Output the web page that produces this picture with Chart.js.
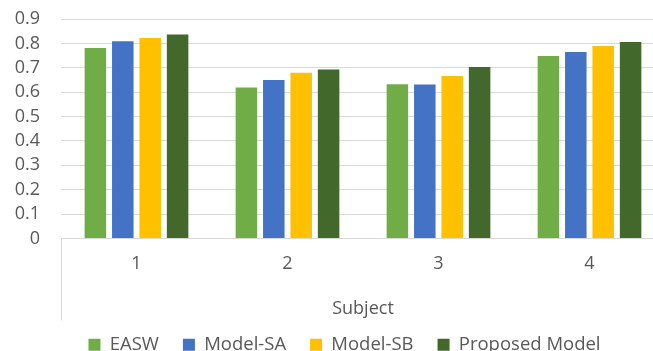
<!DOCTYPE html>
<html>
<head>
<meta charset="utf-8">
<script src="https://cdn.jsdelivr.net/npm/chart.js@4"></script>
<style>
  html, body { margin: 0; padding: 0; background: #ffffff; overflow: hidden; }
  #wrap { position: relative; width: 653px; height: 351px; overflow: hidden; }
</style>
</head>
<body>
<div id="wrap"><canvas id="chart" width="675" height="364"></canvas></div>
<script>
// Subjects on the category axis
const subjects = ['1', '2', '3', '4'];

// Scores per model
const easw       = [0.781, 0.619, 0.632, 0.748];
const modelSA    = [0.809, 0.650, 0.631, 0.765];
const modelSB    = [0.822, 0.680, 0.666, 0.789];
const proposed   = [0.836, 0.693, 0.703, 0.806];

// Value axis labels, bottom to top
const yTicks = ['0', '0.1', '0.2', '0.3', '0.4', '0.5', '0.6', '0.7', '0.8', '0.9'];

const textColor = '#595959';
const lineColor = '#d9d9d9';
const fontFamily = "'Open Sans', 'DejaVu Sans', sans-serif";

// Thin divider on the left of the category label band
const categoryDivider = {
  id: 'categoryDivider',
  afterDraw(chart) {
    const x = chart.scales.x;
    const ctx = chart.ctx;
    const px = Math.round(x.left) + 0.5;
    ctx.save();
    ctx.strokeStyle = lineColor;
    ctx.lineWidth = 1;
    ctx.beginPath();
    ctx.moveTo(px, chart.chartArea.bottom);
    ctx.lineTo(px, chart.chartArea.bottom + 82);
    ctx.stroke();
    ctx.restore();
  }
};

new Chart(document.getElementById('chart'), {
  type: 'bar',
  data: {
    labels: subjects,
    datasets: [
      { label: 'EASW',           data: easw,     backgroundColor: '#70ad47' },
      { label: 'Model-SA',       data: modelSA,  backgroundColor: '#4472c4' },
      { label: 'Model-SB',       data: modelSB,  backgroundColor: '#ffc000' },
      { label: 'Proposed Model', data: proposed, backgroundColor: '#43682b' }
    ]
  },
  options: {
    responsive: false,
    animation: false,
    devicePixelRatio: 1,
    layout: { padding: { left: 14, right: 0, top: 19, bottom: 0 } },
    datasets: {
      bar: { categoryPercentage: 0.726, barPercentage: 0.785 }
    },
    scales: {
      x: {
        grid: { display: false, drawTicks: false },
        border: { display: true, color: lineColor, width: 1 },
        ticks: { color: textColor, padding: 15, font: { family: fontFamily, size: 18 } },
        title: {
          display: true,
          text: 'Subject',
          color: textColor,
          font: { family: fontFamily, size: 18, lineHeight: '6px' },
          padding: { top: 0, bottom: 0 }
        },
        afterFit(scale) { scale.height = 73; }
      },
      y: {
        min: 0,
        max: 0.9,
        grid: { color: lineColor, drawTicks: true, tickLength: 21, tickColor: 'rgba(0,0,0,0)' },
        border: { display: false },
        ticks: {
          stepSize: 0.1,
          autoSkip: false,
          color: textColor,
          padding: 0,
          font: { family: fontFamily, size: 18 },
          callback: (value, index) => yTicks[index]
        },
        afterFit(scale) { scale.width = 47; }
      },
      // blank margin strip on the right edge of the plot
      margin: {
        type: 'linear',
        position: 'right',
        grid: { display: false, drawTicks: false },
        border: { display: false },
        ticks: { display: false },
        afterFit(scale) { scale.width = 10; }
      }
    },
    plugins: {
      legend: {
        position: 'bottom',
        labels: {
          color: textColor,
          boxWidth: 12,
          boxHeight: 12,
          padding: 24,
          font: { family: fontFamily, size: 18.5 }
        }
      },
      tooltip: { enabled: false }
    }
  },
  plugins: [categoryDivider]
});
</script>
</body>
</html>
